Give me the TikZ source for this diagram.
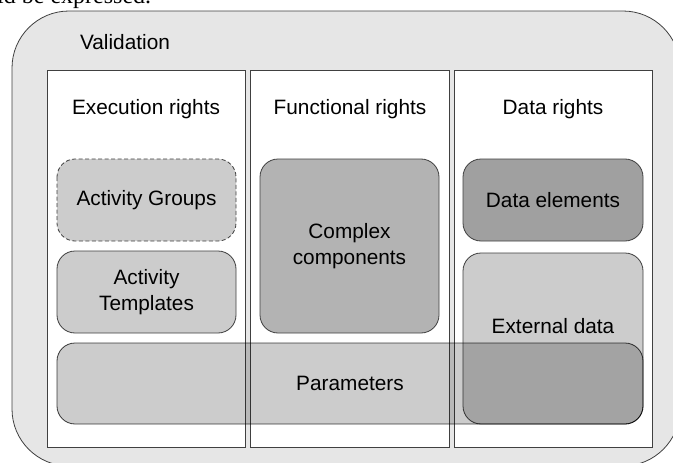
\documentclass[tikz,border=0pt]{standalone}
\usepackage{fontspec}
\setmainfont{Liberation Sans}
\newfontfamily\serifpage{Liberation Serif}
\begin{document}
\definecolor{outerfill}{HTML}{E6E6E6}
\definecolor{lightbox}{HTML}{CCCCCC}
\definecolor{midbox}{HTML}{B3B3B3}
\definecolor{darkbox}{HTML}{A0A0A0}
\definecolor{edge}{HTML}{404040}
\begin{tikzpicture}[x=1pt,y=-1pt,
  txt/.style={font=\fontsize{20.8}{25.5}\selectfont, align=center, inner sep=0pt},
  column/.style={draw=edge, line width=0.8pt, fill=white},
  rbox/.style={draw=edge, line width=0.8pt, rounded corners=18pt},
]
\clip (0,0) rectangle (673,463);
\path[use as bounding box] (0,0) rectangle (673,463);

% running text of the page above the figure
\node[anchor=base west, inner sep=0pt, font=\serifpage\fontsize{24}{28}\selectfont] (pagetext) at (-3,4) {ld be expressed.};

% outer container
\path[draw=edge, line width=0.8pt, fill=outerfill, rounded corners=57pt] (12,11) rectangle (680,466);
\node[txt] (validation) at (125,42) {Validation};

% the three columns
\path[column] (47,70) rectangle (245,447);
\path[column] (250,70) rectangle (449,447);
\path[column] (454,70) rectangle (652,447);
\node[txt] (exec) at (146,109) {Execution rights};
\node[txt] (func) at (350,109) {Functional rights};
\node[txt] (data) at (553,109) {Data rights};

% execution rights
\path[rbox, fill=lightbox, dashed, dash pattern=on 4pt off 2.5pt] (57,159) rectangle (236,241);
\node[txt] (groups) at (146.5,200) {Activity Groups};
\path[rbox, fill=lightbox] (57,251) rectangle (236,333);
\node[txt] (templates) at (146.5,292) {Activity\\Templates};

% functional rights
\path[rbox, fill=midbox] (260,159) rectangle (439,333);
\node[txt] (complex) at (349.5,246) {Complex\\components};

% data rights
\path[rbox, fill=darkbox] (463,159) rectangle (643,241);
\node[txt] (elements) at (553,200) {Data elements};
\path[rbox, fill=lightbox] (463,253) rectangle (643,424);
\node[txt] (external) at (553,326) {External data};

% parameters span all columns
\begin{scope}[blend mode=multiply]
\path[rbox, fill=lightbox] (57,343) rectangle (643,424);
\end{scope}
\node[txt] (params) at (350,383) {Parameters};
\end{tikzpicture}
\end{document}
